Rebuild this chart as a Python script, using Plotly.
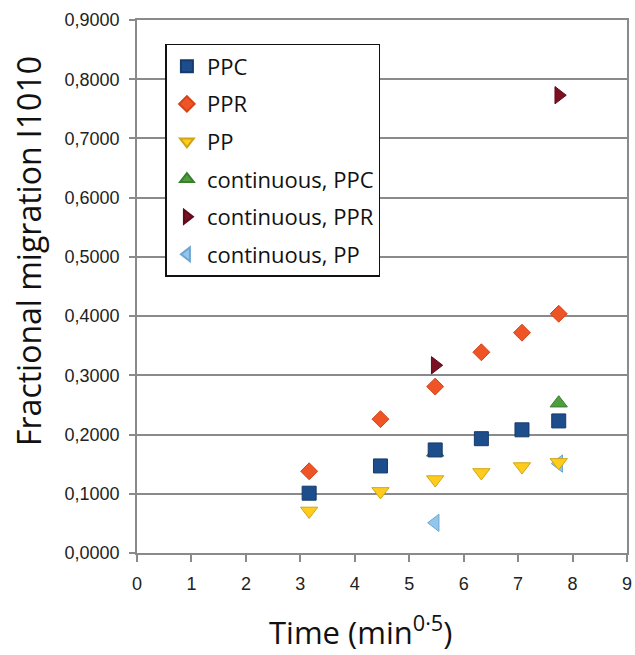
import plotly.graph_objects as go

# x positions: sqrt(time in min)
t_x = [3.162, 4.472, 5.477, 6.325, 7.071, 7.746]
ppc = [0.101, 0.147, 0.174, 0.193, 0.208, 0.223]
ppr = [0.138, 0.226, 0.281, 0.339, 0.372, 0.404]
pp = [0.071, 0.104, 0.124, 0.136, 0.146, 0.153]

c_x = [5.477, 7.746]
c_ppc = [0.170, 0.253]
c_ppr = [0.317, 0.773]
c_pp = [0.051, 0.151]

y_ticks = [0.0, 0.1, 0.2, 0.3, 0.4, 0.5, 0.6, 0.7, 0.8, 0.9]
x_ticks = list(range(0, 10))

x_title = "Time (min<sup>0·5</sup>)"
y_title = "Fractional migration I1010"

fig = go.Figure()

def add(name, x, y, symbol, color, edge, size, rank):
    fig.add_trace(go.Scatter(
        x=x, y=y, mode="markers", name=name,
        legendgroup=name, legendrank=rank,
        marker=dict(symbol=symbol, color=color, size=size,
                    line=dict(color=edge, width=1)),
    ))

# continuous series drawn first (they sit underneath)
add("continuous, PPC", c_x, c_ppc, "triangle-up", "#4E9E3E", "#3C7E30", 15, 4)
add("continuous, PPR", c_x, c_ppr, "triangle-right", "#7A1022", "#5E0C1A", 15, 5)
add("continuous, PP", c_x, c_pp, "triangle-left", "#92C6EC", "#6FA6CF", 15, 6)
add("PPC", t_x, ppc, "square", "#1E4D8C", "#163A6B", 14, 1)
add("PPR", t_x, ppr, "diamond", "#EF5426", "#D04418", 13, 2)
add("PP", t_x, pp, "triangle-down", "#FFCC1E", "#CFA514", 15, 3)

grid = "#8A8A8A"
fig.update_layout(
    width=635, height=655,
    margin=dict(l=137, r=3, t=20, b=102),
    plot_bgcolor="white", paper_bgcolor="white",
    separators=",.",
    showlegend=True,
    legend=dict(
        x=0.058, y=0.955, xanchor="left", yanchor="top",
        bgcolor="white", bordercolor="#111111", borderwidth=1.5,
        font=dict(family="Open Sans", size=22, color="#111111"),
        traceorder="grouped", tracegroupgap=6,
        itemsizing="constant",
    ),
    xaxis=dict(
        range=[0, 9], tickmode="array", tickvals=x_ticks,
        ticks="outside", ticklen=7, tickcolor=grid, tickwidth=1.5,
        ticklabelstandoff=7, ticklabeloverflow="allow",
        showline=True, linecolor=grid, linewidth=1.5, mirror=True,
        showgrid=False, zeroline=False,
        tickfont=dict(family="Liberation Sans", size=18, color="#222222"),
    ),
    yaxis=dict(
        range=[0, 0.9], tickmode="array", tickvals=y_ticks,
        tickformat=".4f",
        ticks="outside", ticklen=6, tickcolor=grid, tickwidth=1.5,
        ticklabelstandoff=6,
        showline=True, linecolor=grid, linewidth=1.5, mirror=True,
        showgrid=True, gridcolor=grid, gridwidth=1.5, zeroline=False,
        tickfont=dict(family="Liberation Sans", size=18, color="#222222"),
    ),
    annotations=[
        dict(text=x_title, xref="paper", yref="paper", x=0.457, y=-0.1445,
             xanchor="center", yanchor="middle", showarrow=False,
             font=dict(family="Open Sans", size=31, color="#111111")),
        dict(text=y_title, xref="paper", yref="paper", x=-0.220, y=0.567,
             xanchor="center", yanchor="middle", showarrow=False, textangle=-90,
             font=dict(family="Open Sans", size=32, color="#111111")),
    ],
)

fig.write_html("out.html")
